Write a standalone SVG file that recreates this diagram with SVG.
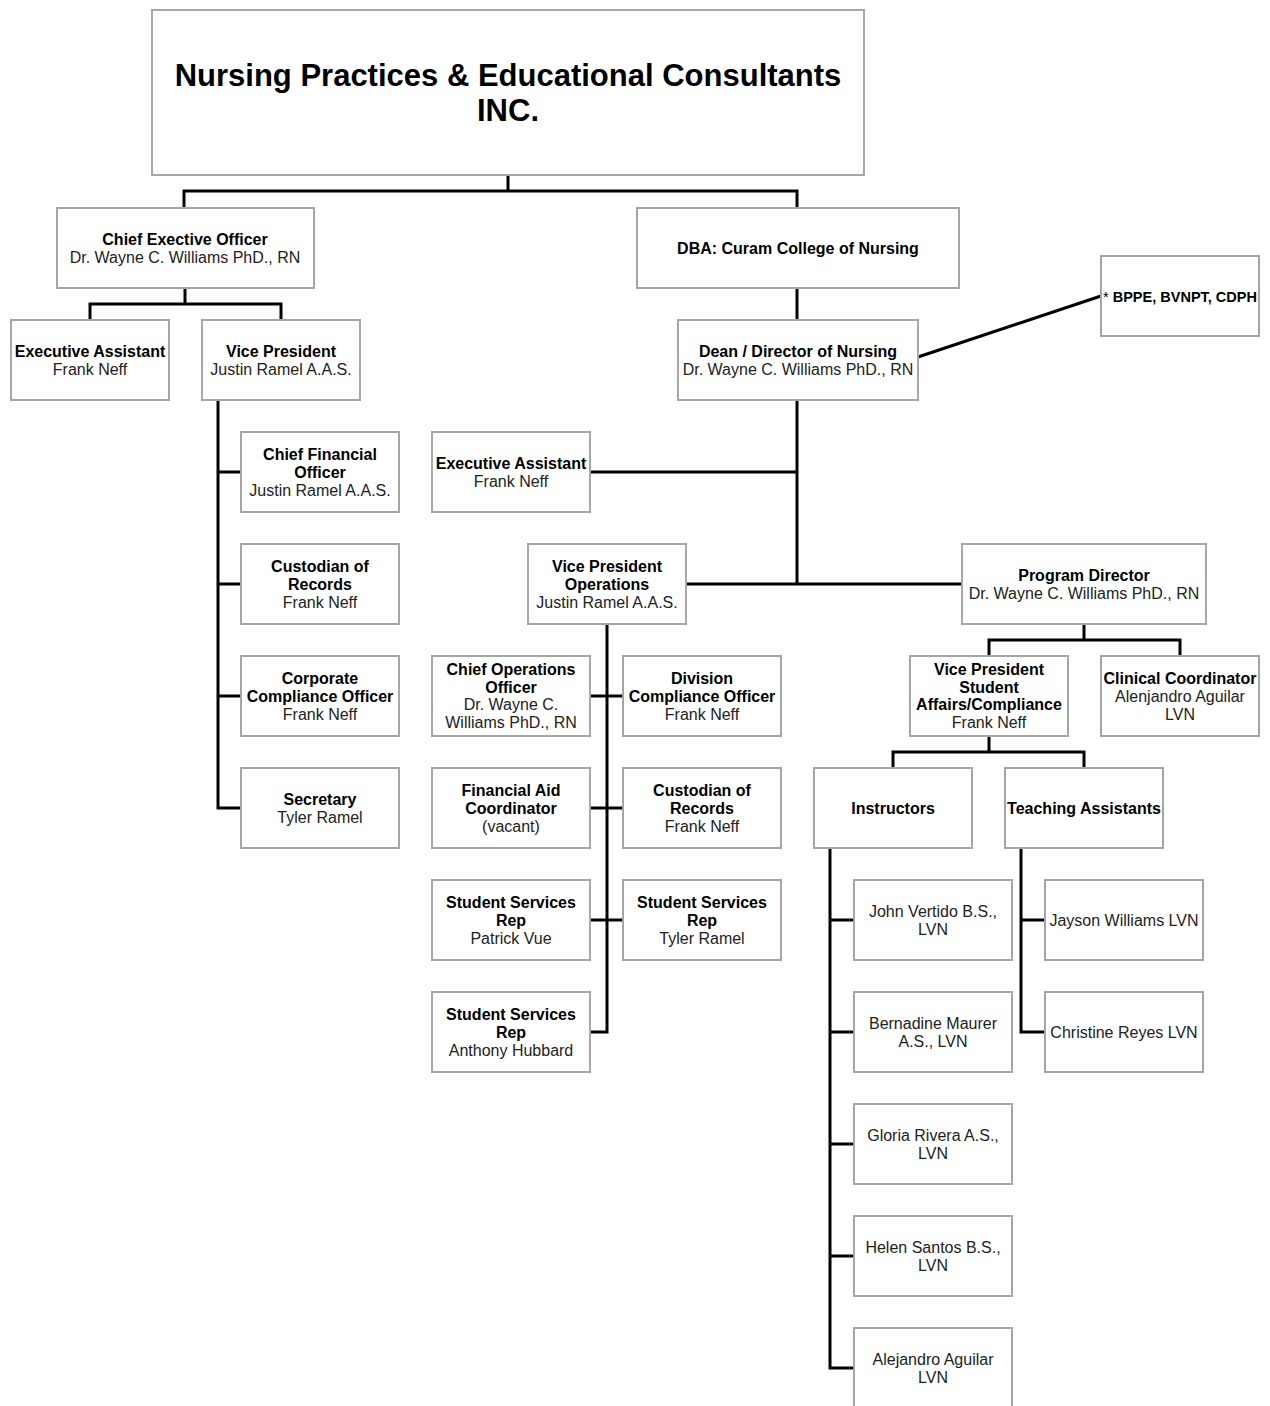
<svg xmlns="http://www.w3.org/2000/svg" width="1270" height="1406" viewBox="0 0 1270 1406">
<style>
.bx{fill:#fff;stroke:#a6a6a6;stroke-width:2}
.t{font-family:"Liberation Sans",Arial,sans-serif;font-size:16px;text-anchor:middle;fill:#222}
.b{font-weight:bold;fill:#000}
.ttl{font-family:"Liberation Sans",Arial,sans-serif;font-size:31px;font-weight:bold;text-anchor:middle;fill:#000}
.c{fill:none;stroke:#000;stroke-width:3}
</style>
<rect width="1270" height="1406" fill="#fff"/>
<g id="connectors" class="c">
<path d="M508,175 V191 M184,208 V191 H797 V208"/>
<path d="M185,288 V304 M90,320 V304 H281 V320"/>
<path d="M218,400 V808 H241 M218,472 H241 M218,584 H241 M218,696 H241"/>
<path d="M797,288 V320"/>
<path d="M797,400 V584 M590,472 H797 M686,584 H962"/>
<path d="M918,357 L1101,296"/>
<path d="M607,624 V1032 H590 M590,696 H623 M590,808 H623 M590,920 H623"/>
<path d="M1084,624 V640 M989,656 V640 H1180 V656"/>
<path d="M989,736 V752 M893,768 V752 H1084 V768"/>
<path d="M830,848 V1368 H854 M830,920 H854 M830,1032 H854 M830,1144 H854 M830,1256 H854"/>
<path d="M1021,848 V1032 H1045 M1021,920 H1045"/>
</g>
<g id="title"><rect class="bx" x="152" y="10" width="712" height="165"/><text class="ttl" x="508" y="86">Nursing Practices &amp; Educational Consultants</text><text class="ttl" x="508" y="121">INC.</text></g>
<g id="ceo"><rect class="bx" x="57" y="208" width="257" height="80"/><text class="t b" x="185" y="245">Chief Exective Officer</text><text class="t" x="185" y="263">Dr. Wayne C. Williams PhD., RN</text></g>
<g id="dba"><rect class="bx" x="637" y="208" width="322" height="80"/><text class="t b" x="798" y="254">DBA: Curam College of Nursing</text></g>
<g id="ea1"><rect class="bx" x="11" y="320" width="158" height="80"/><text class="t b" x="90" y="357">Executive Assistant</text><text class="t" x="90" y="375">Frank Neff</text></g>
<g id="vp"><rect class="bx" x="202" y="320" width="158" height="80"/><text class="t b" x="281" y="357">Vice President</text><text class="t" x="281" y="375">Justin Ramel A.A.S.</text></g>
<g id="cfo"><rect class="bx" x="241" y="432" width="158" height="80"/><text class="t b" x="320" y="460">Chief Financial</text><text class="t b" x="320" y="478">Officer</text><text class="t" x="320" y="496">Justin Ramel A.A.S.</text></g>
<g id="cor1"><rect class="bx" x="241" y="544" width="158" height="80"/><text class="t b" x="320" y="572">Custodian of</text><text class="t b" x="320" y="590">Records</text><text class="t" x="320" y="608">Frank Neff</text></g>
<g id="cco"><rect class="bx" x="241" y="656" width="158" height="80"/><text class="t b" x="320" y="684">Corporate</text><text class="t b" x="320" y="702">Compliance Officer</text><text class="t" x="320" y="720">Frank Neff</text></g>
<g id="sec"><rect class="bx" x="241" y="768" width="158" height="80"/><text class="t b" x="320" y="805">Secretary</text><text class="t" x="320" y="823">Tyler Ramel</text></g>
<g id="dean"><rect class="bx" x="678" y="320" width="240" height="80"/><text class="t b" x="798" y="357">Dean / Director of Nursing</text><text class="t" x="798" y="375">Dr. Wayne C. Williams PhD., RN</text></g>
<g id="bppe"><rect class="bx" x="1101" y="256" width="158" height="80"/><text class="t b" x="1180" y="302" style="font-size:14.5px"><tspan style="font-weight:normal">*</tspan> BPPE, BVNPT, CDPH</text></g>
<g id="ea2"><rect class="bx" x="432" y="432" width="158" height="80"/><text class="t b" x="511" y="469">Executive Assistant</text><text class="t" x="511" y="487">Frank Neff</text></g>
<g id="vpo"><rect class="bx" x="528" y="544" width="158" height="80"/><text class="t b" x="607" y="572">Vice President</text><text class="t b" x="607" y="590">Operations</text><text class="t" x="607" y="608">Justin Ramel A.A.S.</text></g>
<g id="pd"><rect class="bx" x="962" y="544" width="244" height="80"/><text class="t b" x="1084" y="581">Program Director</text><text class="t" x="1084" y="599">Dr. Wayne C. Williams PhD., RN</text></g>
<g id="coo"><rect class="bx" x="432" y="656" width="158" height="80"/><text class="t b" x="511" y="675">Chief Operations</text><text class="t b" x="511" y="692.5">Officer</text><text class="t" x="511" y="710">Dr. Wayne C.</text><text class="t" x="511" y="727.5">Williams PhD., RN</text></g>
<g id="dco"><rect class="bx" x="623" y="656" width="158" height="80"/><text class="t b" x="702" y="684">Division</text><text class="t b" x="702" y="702">Compliance Officer</text><text class="t" x="702" y="720">Frank Neff</text></g>
<g id="fac"><rect class="bx" x="432" y="768" width="158" height="80"/><text class="t b" x="511" y="796">Financial Aid</text><text class="t b" x="511" y="814">Coordinator</text><text class="t" x="511" y="832">(vacant)</text></g>
<g id="cor2"><rect class="bx" x="623" y="768" width="158" height="80"/><text class="t b" x="702" y="796">Custodian of</text><text class="t b" x="702" y="814">Records</text><text class="t" x="702" y="832">Frank Neff</text></g>
<g id="ssr1"><rect class="bx" x="432" y="880" width="158" height="80"/><text class="t b" x="511" y="908">Student Services</text><text class="t b" x="511" y="926">Rep</text><text class="t" x="511" y="944">Patrick Vue</text></g>
<g id="ssr2"><rect class="bx" x="623" y="880" width="158" height="80"/><text class="t b" x="702" y="908">Student Services</text><text class="t b" x="702" y="926">Rep</text><text class="t" x="702" y="944">Tyler Ramel</text></g>
<g id="ssr3"><rect class="bx" x="432" y="992" width="158" height="80"/><text class="t b" x="511" y="1020">Student Services</text><text class="t b" x="511" y="1038">Rep</text><text class="t" x="511" y="1056">Anthony Hubbard</text></g>
<g id="vpsa"><rect class="bx" x="910" y="656" width="158" height="80"/><text class="t b" x="989" y="675">Vice President</text><text class="t b" x="989" y="692.5">Student</text><text class="t b" x="989" y="710">Affairs/Compliance</text><text class="t" x="989" y="727.5">Frank Neff</text></g>
<g id="clin"><rect class="bx" x="1101" y="656" width="158" height="80"/><text class="t b" x="1180" y="684">Clinical Coordinator</text><text class="t" x="1180" y="702">Alenjandro Aguilar</text><text class="t" x="1180" y="720">LVN</text></g>
<g id="instr"><rect class="bx" x="814" y="768" width="158" height="80"/><text class="t b" x="893" y="814">Instructors</text></g>
<g id="ta"><rect class="bx" x="1005" y="768" width="158" height="80"/><text class="t b" x="1084" y="814">Teaching Assistants</text></g>
<g id="i1"><rect class="bx" x="854" y="880" width="158" height="80"/><text class="t" x="933" y="917">John Vertido B.S.,</text><text class="t" x="933" y="935">LVN</text></g>
<g id="i2"><rect class="bx" x="854" y="992" width="158" height="80"/><text class="t" x="933" y="1029">Bernadine Maurer</text><text class="t" x="933" y="1047">A.S., LVN</text></g>
<g id="i3"><rect class="bx" x="854" y="1104" width="158" height="80"/><text class="t" x="933" y="1141">Gloria Rivera A.S.,</text><text class="t" x="933" y="1159">LVN</text></g>
<g id="i4"><rect class="bx" x="854" y="1216" width="158" height="80"/><text class="t" x="933" y="1253">Helen Santos B.S.,</text><text class="t" x="933" y="1271">LVN</text></g>
<g id="i5"><rect class="bx" x="854" y="1328" width="158" height="80"/><text class="t" x="933" y="1365">Alejandro Aguilar</text><text class="t" x="933" y="1383">LVN</text></g>
<g id="t1"><rect class="bx" x="1045" y="880" width="158" height="80"/><text class="t" x="1124" y="926">Jayson Williams LVN</text></g>
<g id="t2"><rect class="bx" x="1045" y="992" width="158" height="80"/><text class="t" x="1124" y="1038">Christine Reyes LVN</text></g>
</svg>
